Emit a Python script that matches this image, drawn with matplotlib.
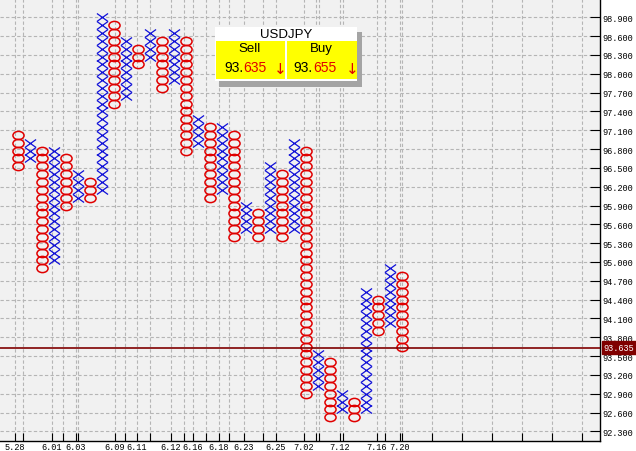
import numpy as np
import matplotlib
matplotlib.use("Agg")
import matplotlib.pyplot as plt
from matplotlib.path import Path
from matplotlib.patches import Rectangle
from matplotlib.transforms import blended_transform_factory

# ---------------- data ----------------
box = 0.125
col_types = ["O", "X"] * 16 + ["O"]
col_tops = [97.025, 96.900, 96.775, 96.775, 96.650, 96.400, 96.275, 98.900,
            98.775, 98.525, 98.400, 98.650, 98.525, 98.650, 98.525, 97.275,
            97.150, 97.150, 97.025, 95.900, 95.775, 96.525, 96.400, 96.900,
            96.775, 93.525, 93.400, 92.900, 92.775, 94.525, 94.400, 94.900,
            94.775]
col_bottoms = [96.525, 96.650, 94.900, 95.025, 95.900, 96.025, 96.025, 96.150,
               97.525, 97.650, 98.150, 98.275, 97.775, 97.900, 96.775, 96.900,
               96.025, 96.150, 95.400, 95.525, 95.400, 95.525, 95.400, 95.525,
               92.900, 93.025, 92.525, 92.650, 92.525, 92.650, 93.900, 94.025,
               93.650]
date_labels = ["5.28", "6.01", "6.03", "6.09", "6.11", "6.12", "6.16", "6.18",
               "6.23", "6.25", "7.02", "7.12", "7.16", "7.20"]
date_pos = [-0.21, 2.875, 4.875, 8.125, 9.96, 12.79, 14.625, 16.79,
            18.875, 21.54, 23.875, 26.875, 29.96, 31.875]
minor_pos = [0.46, 3.79, 5.04, 8.96, 11.04, 13.875, 15.71, 17.625, 20.46,
             24.875, 25.125, 27.125, 30.625, 32.04, 34.54, 37.04, 39.54,
             42.04, 44.54, 47.04]
y_ticks = [92.3, 92.6, 92.9, 93.2, 93.5, 93.8, 94.1, 94.4, 94.7, 95.0, 95.3,
           95.6, 95.9, 96.2, 96.5, 96.8, 97.1, 97.4, 97.7, 98.0, 98.3, 98.6, 98.9]
symbol = "USDJPY"
sell_price = "93.635"
buy_price = "93.655"
current_price = 93.635

# ---------------- figure ----------------
W, H = 636, 452
fig = plt.figure(figsize=(W / 100, H / 100), dpi=100)
fig.patch.set_facecolor("white")
ax = fig.add_axes([0, 10 / H, 600 / W, 442 / H])
ax.set_facecolor("#f1f1f1")

ax.set_xlim(-17.5 / 12, (600 - 17.5) / 12)
ax.set_ylim(92.146, 99.192)

# markers
circ = Path.unit_circle()
ell_path = Path(circ.vertices * np.array([1.0, 0.74]), circ.codes)
x_path = Path([(-1, -0.72), (1, 0.72), (-1, 0.72), (1, -0.72)],
              [Path.MOVETO, Path.LINETO, Path.MOVETO, Path.LINETO])

for i, (t, top, bot) in enumerate(zip(col_types, col_tops, col_bottoms)):
    n = int(round((top - bot) / box)) + 1
    ys = bot + box * np.arange(n)
    xs = np.full(n, i)
    if t == "O":
        ax.plot(xs, ys, linestyle="none", marker=ell_path, markersize=8.0,
                mec="#e00000", mfc="none", mew=1.1, zorder=3)
    else:
        ax.plot(xs, ys, linestyle="none", marker=x_path, markersize=8.0,
                mec="#1010d8", mfc="none", mew=0.9, zorder=3)

# grid / ticks
mono = ["Liberation Mono", "DejaVu Sans Mono"]
ax.set_yticks(y_ticks)
ax.set_yticklabels([f"{v:.3f}" for v in y_ticks], family=mono, fontsize=6.2)
ax.yaxis.tick_right()
ax.tick_params(axis="y", direction="in", length=7, width=0.8, pad=1.5,
               colors="black")
ax.set_xticks(date_pos)
ax.set_xticklabels(date_labels, family=mono, fontsize=6.2)
ax.set_xticks(minor_pos, minor=True)
ax.tick_params(axis="x", which="both", direction="in", length=6, width=0.8,
               pad=1)
for v in y_ticks:
    ax.axhline(v, color="#b5b5b5", lw=0.8, ls=(0, (3, 2)), zorder=1)
for v in list(date_pos) + list(minor_pos):
    ax.axvline(v, color="#b5b5b5", lw=0.8, ls=(0, (3, 2)), zorder=1)

for s in ["left", "top"]:
    ax.spines[s].set_visible(False)
ax.spines["right"].set_linewidth(1.0)
ax.spines["bottom"].set_linewidth(1.0)

# current price line and label
ax.axhline(current_price, color="#800000", lw=1.2, zorder=4)
trans = blended_transform_factory(ax.transAxes, ax.transData)
ax.text(1.006, current_price, f"{current_price:.3f}", transform=trans,
        family=mono, fontsize=6.2, color="white", va="center", ha="left",
        zorder=6, clip_on=False,
        bbox=dict(boxstyle="square,pad=0.2", fc="#800000", ec="#800000"))

# info box (pixel coords from top-left)
def fx(px):
    return px / W

def fy(py):
    return 1 - py / H

def rect(x0, y0, x1, y1, color, z):
    fig.patches.append(Rectangle((fx(x0), fy(y1)), fx(x1) - fx(x0),
                                 fy(y0) - fy(y1), transform=fig.transFigure,
                                 fc=color, ec="none", zorder=z))

rect(219, 33, 362, 88, "#a4a4a4", 10)
rect(215, 28, 357, 82, "white", 11)
rect(216, 42, 357, 80, "#ffff00", 12)
rect(285, 42, 287, 80, "white", 13)

tf = ["Liberation Sans", "DejaVu Sans"]
fig.text(fx(286), fy(35), symbol, family=tf, fontsize=9.5, ha="center",
         va="center", zorder=14)
fig.text(fx(250), fy(49), "Sell", family=tf, fontsize=9.5, ha="center",
         va="center", zorder=14)
fig.text(fx(321), fy(49), "Buy", family=tf, fontsize=9.5, ha="center",
         va="center", zorder=14)
for xsplit, price, xarrow in [(243, sell_price, 280), (313, buy_price, 352)]:
    head, tail = price.split(".")
    fig.text(fx(xsplit), fy(68), head + ".", family=tf, fontsize=10,
             ha="right", va="center", zorder=14, color="black")
    fig.text(fx(xsplit), fy(68), tail, family=tf, fontsize=10,
             ha="left", va="center", zorder=14, color="#e00000")
    fig.text(fx(xarrow), fy(69), "\u2193", family=["DejaVu Sans"],
             fontsize=11, ha="center", va="center", zorder=14,
             color="#e00000")

fig.savefig("out.png", dpi=100, facecolor="white")
